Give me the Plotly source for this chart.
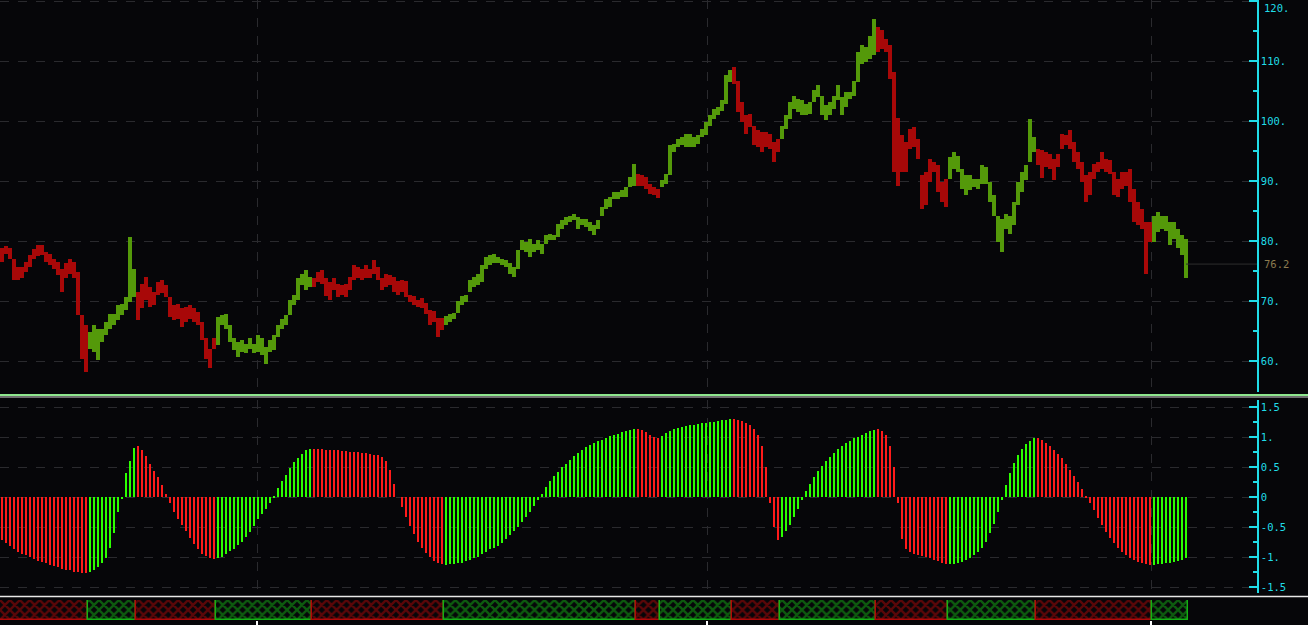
import plotly.graph_objects as go

# ---------------- data (bucketed price bars: high / low) ----------------
hi = [
    78.9, 79.2, 78.9, 77.1, 75.7, 75.7, 76.6, 77.7, 78.7, 79.3,
    79.3, 78.2, 77.8, 77.1, 76.6, 75.4, 76.3, 77.1, 76.6, 74.9,
    67.7, 66.0, 64.9, 66.0, 65.4, 65.4, 66.6, 67.9, 67.9, 69.4,
    69.6, 70.7, 80.8, 75.4, 71.6, 72.9, 74.1, 72.4, 71.6, 73.2,
    73.5, 72.7, 70.7, 69.3, 69.6, 68.8, 69.1, 69.3, 68.8, 68.2,
    66.6, 63.8, 62.1, 63.8, 67.4, 67.7, 67.8, 66.0, 63.8, 63.2,
    63.5, 62.9, 63.8, 62.9, 64.3, 63.8, 62.4, 63.5, 64.3, 66.0,
    67.1, 67.7, 70.2, 71.0, 73.8,
    74.5, 75.2, 74.1, 73.8, 74.9, 75.2, 73.8, 73.2, 73.8, 72.9,
    72.7, 72.9, 74.1, 76.0, 75.7, 75.4, 76.0, 75.4, 76.8, 75.7,
    73.8, 74.6, 74.3, 74.1, 73.3, 73.5, 73.3, 71.0, 70.8, 70.2,
    70.5, 69.7, 68.6, 68.3, 67.2, 67.2, 67.5, 67.8, 68.1, 70.0,
    70.8, 71.0, 73.5, 74.1, 74.6, 76.0, 77.4, 77.7, 77.9, 77.4,
    77.1, 76.8, 76.3, 75.7, 78.5, 80.2, 79.9, 80.4, 79.6, 80.2,
    79.6, 81.0, 81.3, 81.0, 82.9, 83.5, 84.1, 84.3, 84.6, 84.1,
    83.8, 83.8, 83.2, 82.7, 83.5,
    85.8, 87.1, 87.4, 88.2, 88.2, 88.5, 89.1, 90.7, 92.9, 91.3,
    91.0, 90.7, 89.6, 89.1, 88.8, 90.2, 91.3, 96.0, 96.3, 97.1,
    97.4, 97.9, 97.9, 97.4, 97.7, 98.8, 99.9, 101.0, 102.1, 102.4,
    103.5, 107.7, 108.5, 109.1, 106.8, 103.2, 101.0, 101.3, 99.3, 98.5,
    98.2, 98.2, 97.9, 96.6, 97.1, 99.3, 101.0, 103.2, 104.3, 103.8,
    103.5, 102.9, 103.2, 105.2, 106.0, 104.3, 102.7, 103.2, 104.3, 106.0,
    104.1, 104.9, 104.9, 106.8, 111.6, 112.7, 112.4, 114.3, 117.0, 115.7,
    115.2, 113.8, 112.7, 108.2, 100.5,
    97.7, 96.6, 98.8, 99.1, 97.1, 91.0, 91.6, 93.8, 93.2, 92.7,
    89.9, 90.4, 94.1, 94.9, 94.3, 92.1, 91.0, 91.0, 90.4, 90.4,
    92.7, 92.4, 89.9, 87.7, 84.3, 83.8, 84.6, 84.3, 86.6, 89.9,
    91.6, 92.7, 100.4, 97.4, 95.4, 95.2, 94.9, 94.6, 93.8, 94.6,
    97.9, 97.7, 98.5, 96.6, 94.9, 93.2, 91.0, 91.6, 92.9, 93.2,
    94.9, 93.8, 93.5, 91.6, 90.4, 91.6, 91.6, 92.1, 88.8, 86.6,
    85.4, 83.2, 83.2, 84.3, 84.9, 84.3, 84.3, 83.2, 83.2, 82.1,
    81.0, 80.4,
]
lo = [
    76.6, 77.8, 77.1, 73.5, 73.5, 73.8, 74.9, 75.7, 77.1, 77.6,
    77.7, 76.6, 76.0, 75.4, 74.3, 71.6, 73.8, 74.6, 73.8, 67.7,
    60.4, 58.2, 62.1, 61.6, 60.2, 63.2, 64.3, 65.4, 66.0, 66.8,
    67.7, 68.5, 69.9, 70.7, 66.8, 68.8, 70.2, 69.1, 69.3, 71.0,
    71.3, 70.7, 67.4, 66.8, 67.1, 65.7, 66.6, 67.1, 66.6, 66.0,
    63.5, 60.4, 58.9, 62.1, 62.7, 66.0, 65.4, 63.2, 61.8, 60.7,
    61.6, 61.3, 62.1, 61.3, 61.6, 61.0, 59.6, 61.6, 61.8, 64.1,
    65.4, 66.0, 67.7, 69.3, 70.2,
    72.7, 71.8, 72.3, 72.3, 73.2, 72.9, 70.8, 70.2, 71.8, 70.7,
    71.0, 70.7, 71.8, 73.5, 73.8, 73.5, 73.8, 73.8, 74.6, 73.5,
    71.8, 72.4, 72.7, 71.6, 71.0, 71.6, 70.7, 69.9, 69.4, 69.1,
    68.8, 67.8, 66.1, 66.6, 64.1, 65.2, 66.1, 66.6, 67.0, 68.0,
    69.4, 69.9, 71.6, 72.4, 72.7, 73.2, 75.4, 76.0, 76.3, 76.3,
    76.0, 75.7, 74.6, 74.1, 75.4, 78.5, 78.2, 77.4, 78.2, 78.5,
    77.9, 79.6, 80.2, 80.3, 80.7, 82.1, 82.7, 83.2, 83.5, 82.1,
    82.7, 82.4, 81.8, 81.0, 82.1,
    84.3, 85.4, 85.7, 87.1, 87.1, 87.4, 87.4, 89.1, 89.3, 89.3,
    89.3, 88.8, 87.9, 87.7, 87.2, 89.1, 89.6, 91.0, 94.9, 95.7,
    96.0, 95.7, 95.7, 95.7, 96.3, 97.4, 97.7, 99.3, 100.4, 101.0,
    101.8, 102.9, 106.6, 106.3, 101.6, 99.9, 97.9, 99.1, 96.0, 95.7,
    94.9, 95.7, 95.4, 93.2, 94.9, 97.1, 98.8, 100.4, 102.1, 101.6,
    101.0, 101.0, 101.3, 103.2, 104.1, 101.0, 100.2, 101.0, 102.1, 103.5,
    101.0, 102.4, 103.8, 104.3, 106.6, 109.6, 109.9, 110.4, 111.0, 111.6,
    112.1, 111.6, 107.1, 91.6, 89.3,
    91.6, 91.6, 95.4, 95.7, 93.8, 85.4, 86.0, 89.9, 91.6, 88.2,
    86.6, 85.7, 90.4, 92.1, 91.6, 88.8, 87.7, 88.5, 89.1, 88.8,
    89.6, 89.6, 86.6, 84.3, 79.9, 78.2, 82.1, 81.2, 82.7, 86.0,
    88.2, 90.2, 93.2, 94.9, 92.7, 90.6, 92.4, 92.1, 90.2, 92.4,
    95.4, 96.0, 95.4, 93.2, 92.1, 89.9, 86.6, 87.7, 90.4, 91.6,
    92.1, 91.6, 91.3, 87.7, 87.4, 88.8, 89.3, 86.6, 83.2, 82.7,
    82.1, 74.6, 79.9, 79.9, 81.6, 82.1, 81.8, 79.3, 80.4, 78.8,
    77.7, 73.8,
]
last_price = 76.2

# ---------------- oscillator histogram ----------------
osc = [
    -0.71, -0.77, -0.82, -0.87, -0.91, -0.94, -0.97, -1.0, -1.03, -1.06,
    -1.08, -1.10, -1.13, -1.15, -1.17, -1.19, -1.21, -1.22, -1.24, -1.25,
    -1.26, -1.27, -1.25, -1.21, -1.16, -1.1, -1.01, -0.84, -0.6, -0.25,
    -0.02, 0.4, 0.6, 0.82, 0.86, 0.79, 0.68, 0.56, 0.44, 0.34,
    0.21, 0.06, -0.1, -0.24, -0.36, -0.47, -0.57, -0.68, -0.78, -0.87,
    -0.94, -0.98, -1.01, -1.03, -1.02, -0.99, -0.94, -0.9, -0.86, -0.8,
    -0.74, -0.67, -0.58, -0.48, -0.37, -0.28, -0.2, -0.1, 0.02, 0.15,
    0.27, 0.37, 0.49, 0.58, 0.66, 0.72, 0.78, 0.81, 0.81, 0.8,
    0.8, 0.79, 0.79, 0.78, 0.78, 0.77, 0.77, 0.76, 0.76, 0.75,
    0.74, 0.73, 0.72, 0.71, 0.7, 0.67, 0.6, 0.45, 0.22, 0.0,
    -0.17, -0.33, -0.48, -0.62, -0.74, -0.85, -0.93, -1.0, -1.06, -1.1,
    -1.12,
    -1.13, -1.12, -1.11, -1.1, -1.09, -1.07, -1.05, -1.02, -0.99, -0.95,
    -0.91, -0.87, -0.84, -0.81, -0.77, -0.7, -0.63, -0.56, -0.49, -0.42,
    -0.33, -0.25, -0.15, -0.05, 0.06, 0.17, 0.27, 0.35, 0.42, 0.5,
    0.56, 0.62, 0.68, 0.73, 0.78, 0.83, 0.87, 0.9, 0.93, 0.96,
    0.99, 1.02, 1.04, 1.06, 1.08, 1.1, 1.12, 1.13,
    1.14, 1.12, 1.08, 1.04, 1.0, 0.98,
    1.02, 1.07, 1.1, 1.13, 1.15, 1.17, 1.19, 1.2, 1.21, 1.22,
    1.23, 1.24, 1.25, 1.26, 1.27, 1.28, 1.29, 1.3,
    1.3, 1.29, 1.27, 1.24, 1.2, 1.13, 1.03, 0.85, 0.5, -0.1, -0.5, -0.72,
    -0.66, -0.57, -0.46, -0.33, -0.19, -0.04, 0.1, 0.22, 0.33, 0.43,
    0.52, 0.6, 0.67, 0.74, 0.8, 0.85, 0.9, 0.94, 0.98, 1.01,
    1.04, 1.07, 1.1, 1.12,
    1.13, 1.1, 1.03, 0.85, 0.5, -0.1, -0.7, -0.86, -0.91, -0.94,
    -0.96, -0.98, -1.0, -1.02, -1.04, -1.06, -1.09, -1.11,
    -1.12, -1.11, -1.1, -1.08, -1.05, -1.02, -0.97, -0.91, -0.84, -0.74,
    -0.6, -0.44, -0.25, -0.04, 0.2, 0.4, 0.57, 0.7, 0.8, 0.88,
    0.94, 0.98,
    0.99, 0.95, 0.9, 0.85, 0.79, 0.72, 0.65, 0.56, 0.46, 0.36,
    0.25, 0.13, 0.01, -0.1, -0.22, -0.35, -0.47, -0.58, -0.68, -0.77,
    -0.85, -0.92, -0.97, -1.01, -1.05, -1.08, -1.1, -1.12, -1.13,
    -1.13, -1.12, -1.11, -1.1, -1.09, -1.08, -1.06, -1.04, -1.02,
]

# ---------------- regimes (start bar index, trend) ----------------
regime_start = [0, 22, 34, 54, 78, 111, 159, 165, 183, 195, 219, 237, 259, 288]
regime_trend = ["down", "up", "down", "up", "down", "up", "down",
                "up", "down", "up", "down", "up", "down", "up"]

# period separators (bar positions) and axis labels
period_marks = [63.75, 176.25, 287.25]
price_ticks = [60, 70, 80, 90, 100, 110, 120]
price_ticktext = ["60.", "70.", "80.", "90.", "100.", "110.", "120."]
osc_ticks = [-1.5, -1.0, -0.5, 0, 0.5, 1.0, 1.5]
osc_ticktext = ["-1.5", "-1.", "-0.5", "0", "0.5", "1.", "1.5"]

# ---------------- styling ----------------
BG = "#060609"
CYAN = "#20dde8"
GRID = "#2a2a2e"
PRICE_COL = {"down": "#a80808", "up": "#54990a"}
OSC_COL = {"down": "#ff1a1a", "up": "#2cff00"}
STRIP_COL = {"down": "#b00808", "up": "#14b014"}

N = len(hi)
idx = list(range(N))
ends = regime_start[1:] + [N]
trend = []
for s, e, t in zip(regime_start, ends, regime_trend):
    trend += [t] * (e - s)

XR = [-0.5, 313.75]
XDOM = [0, 1257 / 1308]
LABEL_X = 1262 / 1308

fig = go.Figure()

# price range bars
fig.add_trace(go.Bar(
    x=idx, y=[h - l for h, l in zip(hi, lo)], base=lo, width=1.0,
    marker=dict(color=[PRICE_COL[t] for t in trend], line=dict(width=0)),
    xaxis="x", yaxis="y", hoverinfo="skip", showlegend=False))

# oscillator histogram
fig.add_trace(go.Bar(
    x=idx, y=osc, width=0.4,
    marker=dict(color=[OSC_COL[t] for t in trend], line=dict(width=0)),
    xaxis="x2", yaxis="y2", hoverinfo="skip", showlegend=False))

# regime strip
fig.add_trace(go.Bar(
    x=[(s + e) / 2 - 0.5 for s, e in zip(regime_start, ends)],
    y=[1] * len(regime_start), base=0,
    width=[e - s for s, e in zip(regime_start, ends)],
    marker=dict(color=BG,
                line=dict(color=[STRIP_COL[t] for t in regime_trend], width=1.5),
                pattern=dict(shape="x", fgcolor=[STRIP_COL[t] for t in regime_trend],
                             bgcolor=BG, size=7, solidity=0.55)),
    xaxis="x3", yaxis="y3", hoverinfo="skip", showlegend=False))

tickfont = dict(family="DejaVu Sans Mono", size=10.5, color=CYAN)
xcommon = dict(range=XR, domain=XDOM, showticklabels=False, tickvals=period_marks,
               showgrid=True, gridcolor=GRID, griddash="dash", gridwidth=1,
               zeroline=False, showline=False, ticks="")

fig.update_layout(
    width=1308, height=625, paper_bgcolor=BG, plot_bgcolor=BG,
    margin=dict(l=0, r=0, t=0, b=0), barmode="overlay", bargap=0,
    xaxis=dict(anchor="y", **xcommon),
    xaxis2=dict(anchor="y2", matches="x", **xcommon),
    xaxis3=dict(anchor="y3", matches="x", range=XR, domain=XDOM,
                showticklabels=False, tickvals=period_marks, ticks="outside",
                ticklen=6, tickwidth=2, tickcolor="#ffffff", showgrid=False,
                zeroline=False, showline=False),
    yaxis=dict(domain=[233 / 625, 1.0], range=[54.88, 120.22], side="right",
               anchor="x", tickvals=price_ticks, ticktext=price_ticktext,
               tickfont=tickfont, showline=True, linecolor=CYAN, linewidth=1.5,
               ticks="inside", ticklen=8, tickcolor=CYAN, tickwidth=1.5,
               minor=dict(tickvals=[55, 65, 75, 85, 95, 105, 115], ticks="inside",
                          ticklen=4, tickcolor=CYAN, showgrid=False),
               showgrid=True, gridcolor=GRID, griddash="dash", zeroline=False),
    yaxis2=dict(domain=[32 / 625, 225 / 625], range=[-1.595, 1.62], side="right",
                anchor="x2", tickvals=osc_ticks, ticktext=osc_ticktext,
                tickfont=tickfont, showline=True, linecolor=CYAN, linewidth=1.5,
                ticks="inside", ticklen=8, tickcolor=CYAN, tickwidth=1.5,
                minor=dict(tickvals=[-1.25, -0.75, -0.25, 0.25, 0.75, 1.25],
                           ticks="inside", ticklen=4, tickcolor=CYAN, showgrid=False),
                showgrid=True, gridcolor=GRID, griddash="dash", zeroline=False),
    yaxis3=dict(domain=[5 / 625, 25 / 625], range=[0, 1], visible=False,
                anchor="x3"),
    shapes=[
        dict(type="line", xref="paper", yref="paper", x0=0, x1=1,
             y0=230 / 625, y1=230 / 625, line=dict(color="#8ee68e", width=2)),
        dict(type="line", xref="paper", yref="paper", x0=0, x1=1,
             y0=228 / 625, y1=228 / 625, line=dict(color="#d8d8d8", width=1)),
        dict(type="line", xref="paper", yref="paper", x0=0, x1=1,
             y0=28.5 / 625, y1=28.5 / 625, line=dict(color="#e8e8e8", width=1.5)),
        dict(type="line", xref="x", yref="y", x0=N - 1, x1=XR[1],
             y0=last_price, y1=last_price, line=dict(color="#2e2e2e", width=1)),
    ],
    annotations=[
        dict(xref="paper", yref="y", x=LABEL_X, y=last_price,
             text=f"{last_price}", showarrow=False, xanchor="left",
             font=dict(family="DejaVu Sans Mono", size=10.5, color="#8c7c50")),
        # top tick label: kept just inside the page edge
        dict(xref="paper", yref="y", x=LABEL_X, y=price_ticks[-1],
             text=price_ticktext[-1], showarrow=False, xanchor="left",
             yanchor="top", yshift=1, font=tickfont),
    ],
)

fig.write_html("out.html",
               config={"displayModeBar": False},
               post_script="document.body.style.margin='0';"
                           "document.body.style.background='#060609';")
